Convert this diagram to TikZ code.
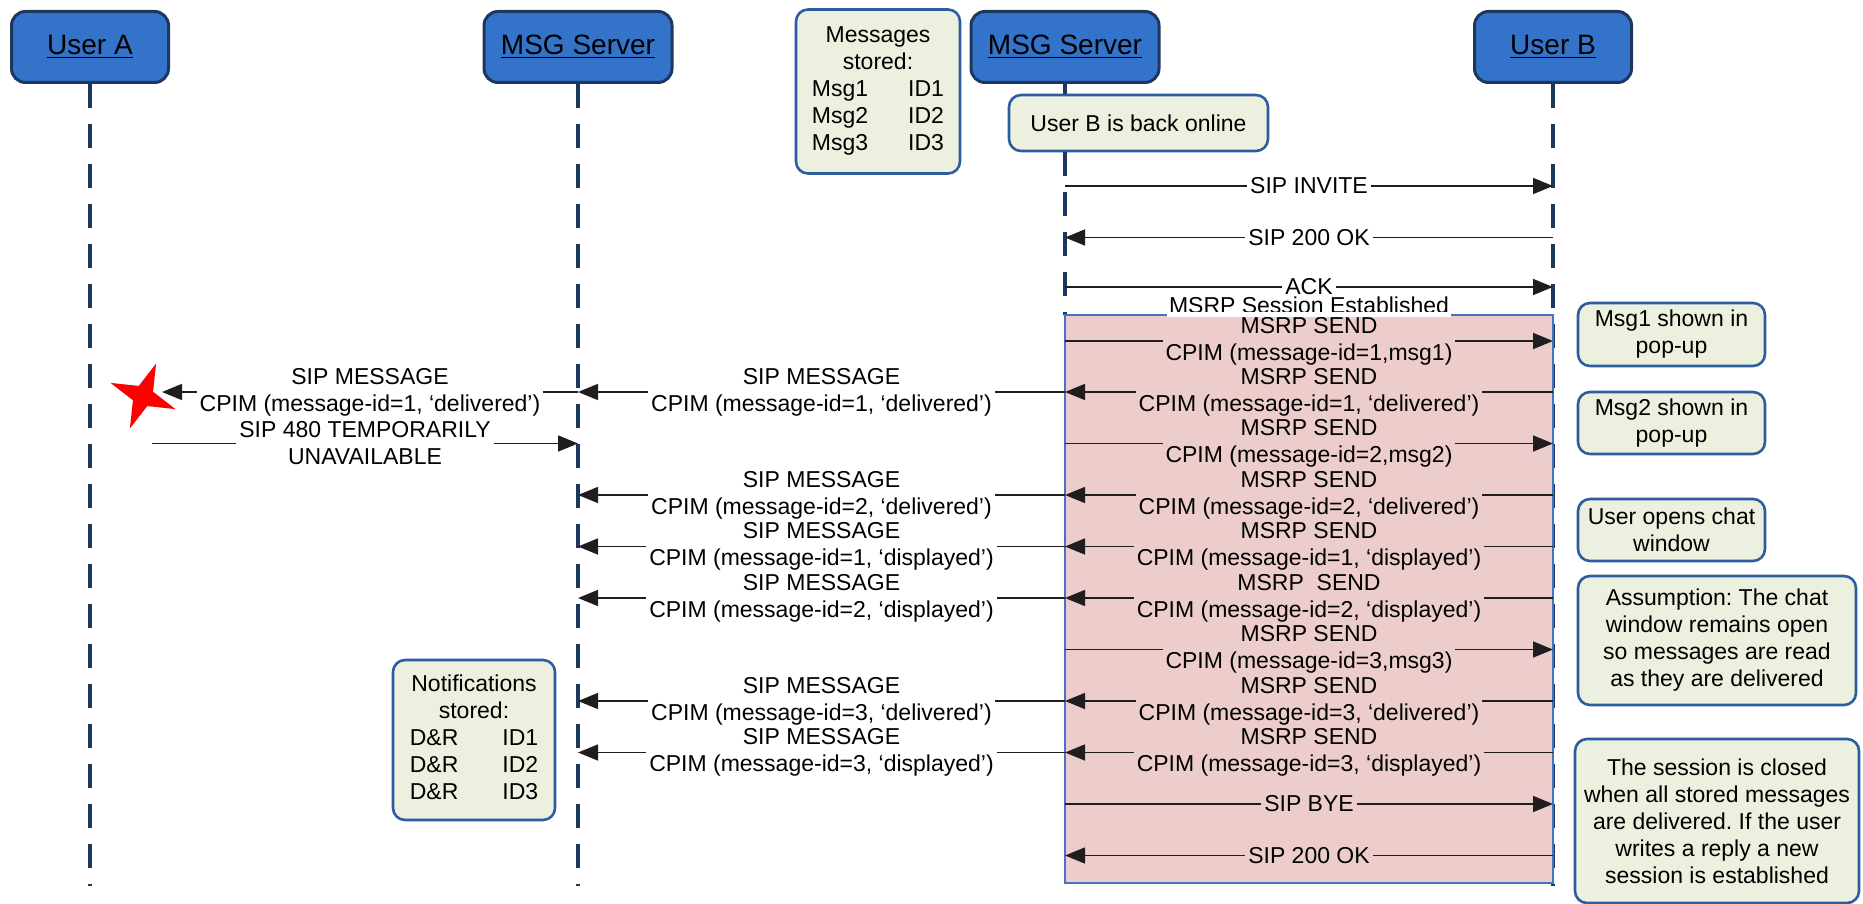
\documentclass[tikz,border=0pt]{standalone}
\usepackage{fontspec}
\setmainfont{Liberation Sans}
\frenchspacing
\usetikzlibrary{arrows.meta,shapes.geometric,calc}
\definecolor{hdrfill}{RGB}{51,115,201}
\definecolor{hdrdraw}{RGB}{30,55,95}
\definecolor{lifecol}{RGB}{30,55,95}
\definecolor{notefill}{RGB}{235,241,222}
\definecolor{notedraw}{RGB}{46,92,160}
\definecolor{pinkfill}{RGB}{236,205,203}
\definecolor{pinkdraw}{RGB}{68,114,196}
\definecolor{arrcol}{RGB}{30,30,30}
\tikzset{
 hdr/.style={draw=hdrdraw, line width=1.5pt, fill=hdrfill, rounded corners=7pt, minimum height=35.5pt, font=\fontsize{14}{16}\selectfont, inner sep=0pt},
 note/.style={draw=notedraw, line width=1.3pt, fill=notefill, rounded corners=6pt, align=center, font=\fontsize{11.5}{13.5}\selectfont, inner sep=0pt},
 life/.style={draw=lifecol, line width=1.6pt, dash pattern=on 12pt off 8pt},
 msgarrow/.style={draw=arrcol, line width=0.8pt, -{Triangle[length=10pt,width=8pt]}},
 lbl/.style={align=center, font=\fontsize{11.5}{13.5}\selectfont, inner xsep=1.5pt, inner ysep=0pt, text=black}
}
\newcommand\seqmsg[5]{\draw[msgarrow] (#1 |- 0,#3) -- node[lbl, fill=#5]{#4} (#2 |- 0,#3);}
\begin{document}
\begin{tikzpicture}[x=0.5pt,y=-0.5pt]
\useasboundingbox (0,0) rectangle (1863,904);
% headers
\node[hdr, minimum width=78.5pt] (hA) at (90,47) {\underline{User A}};
\node[hdr, minimum width=94pt] (hS1) at (578,47) {\underline{MSG Server}};
\node[hdr, minimum width=94pt] (hS2) at (1065,47) {\underline{MSG Server}};
\node[hdr, minimum width=78.5pt] (hB) at (1553,47) {\underline{User B}};
\node[note, minimum width=129.5pt, minimum height=28pt] (online) at (1138.5,123) {User B is back online};
% lifelines
\draw[life] (hA.south) -- (hA |- 0,886);
\draw[life] (hS1.south) -- (hS1 |- 0,886);
\draw[draw=lifecol, line width=1.6pt] (hS2.south) -- (hS2 |- online.north);
\draw[life] (hS2 |- online.south) -- (hS2 |- 0,315);
\draw[life] (hB.south) -- (hB |- 0,886);
% session box
\coordinate (sesTL) at (hS2 |- 0,315);
\coordinate (sesBR) at (hB |- 0,883);
\draw[draw=pinkdraw, fill=pinkfill, line width=1.3pt] (sesTL) rectangle (sesBR);
\node[inner sep=0pt, anchor=south, font=\fontsize{11.5}{13.5}\selectfont] (ses) at ($(sesTL)!0.5!(sesTL -| sesBR)+(0,-0.5)$) {MSRP Session Established};
\fill[white] ($(ses.south west)+(-2,-3)$) rectangle ($(ses.south east)+(2,3)$);
% notes
\node[note, minimum width=82pt, minimum height=82pt] (stored) at (878,91.5) {\begin{tabular}{@{}l@{\hspace{20pt}}l@{}}\multicolumn{2}{@{}c@{}}{Messages}\\ \multicolumn{2}{@{}c@{}}{stored:}\\ Msg1&ID1\\ Msg2&ID2\\ Msg3&ID3\end{tabular}};
\node[note, minimum width=81pt, minimum height=80pt] (notif) at (474,740) {\begin{tabular}{@{}l@{\hspace{22pt}}l@{}}\multicolumn{2}{@{}c@{}}{Notifications}\\ \multicolumn{2}{@{}c@{}}{stored:}\\ D\&R&ID1\\ D\&R&ID2\\ D\&R&ID3\end{tabular}};
\node[note, minimum width=93.5pt, minimum height=31.5pt] (pop1) at (1671.5,334.5) {Msg1 shown in\\pop-up};
\node[note, minimum width=93.5pt, minimum height=31pt] (pop2) at (1671.5,423) {Msg2 shown in\\pop-up};
\node[note, minimum width=93.5pt, minimum height=31pt] (opens) at (1671.5,530) {User opens chat\\window};
\node[note, minimum width=139pt, minimum height=64.5pt] (assume) at (1717,640.5) {Assumption: The chat\\window remains open\\so messages are read\\as they are delivered};
\node[note, minimum width=142pt, minimum height=82pt] (closed) at (1717,821) {The session is closed\\when all stored messages\\are delivered. If the user\\writes a reply a new\\session is established};
% star
\node[star, star points=4, star point ratio=3.2, minimum size=35pt, inner sep=0pt, fill=red, rotate=-22] (star) at (143,396) {};
\coordinate (starTip) at (162,392);
\coordinate (s480) at (152,443.5);
% messages
\seqmsg{hS2}{hB}{186}{SIP INVITE}{white}
\seqmsg{hB}{hS2}{237.5}{SIP 200 OK}{white}
\seqmsg{hS2}{hB}{287}{ACK}{white}
\seqmsg{hS2}{hB}{341}{MSRP SEND\\CPIM (message-id=1,msg1)}{pinkfill}
\seqmsg{hB}{hS2}{392}{MSRP SEND\\CPIM (message-id=1, ‘delivered’)}{pinkfill}
\seqmsg{hS2}{hS1}{392}{SIP MESSAGE\\CPIM (message-id=1, ‘delivered’)}{white}
\seqmsg{hS1}{starTip}{392}{SIP MESSAGE\\CPIM (message-id=1, ‘delivered’)}{white}
\seqmsg{s480}{hS1}{443.5}{SIP 480 TEMPORARILY\\UNAVAILABLE}{white}
\seqmsg{hS2}{hB}{443.5}{MSRP SEND\\CPIM (message-id=2,msg2)}{pinkfill}
\seqmsg{hB}{hS2}{495}{MSRP SEND\\CPIM (message-id=2, ‘delivered’)}{pinkfill}
\seqmsg{hS2}{hS1}{495}{SIP MESSAGE\\CPIM (message-id=2, ‘delivered’)}{white}
\seqmsg{hB}{hS2}{546.5}{MSRP SEND\\CPIM (message-id=1, ‘displayed’)}{pinkfill}
\seqmsg{hS2}{hS1}{546.5}{SIP MESSAGE\\CPIM (message-id=1, ‘displayed’)}{white}
\seqmsg{hB}{hS2}{598}{MSRP\ \ SEND\\CPIM (message-id=2, ‘displayed’)}{pinkfill}
\seqmsg{hS2}{hS1}{598}{SIP MESSAGE\\CPIM (message-id=2, ‘displayed’)}{white}
\seqmsg{hS2}{hB}{649.5}{MSRP SEND\\CPIM (message-id=3,msg3)}{pinkfill}
\seqmsg{hB}{hS2}{701}{MSRP SEND\\CPIM (message-id=3, ‘delivered’)}{pinkfill}
\seqmsg{hS2}{hS1}{701}{SIP MESSAGE\\CPIM (message-id=3, ‘delivered’)}{white}
\seqmsg{hB}{hS2}{752.5}{MSRP SEND\\CPIM (message-id=3, ‘displayed’)}{pinkfill}
\seqmsg{hS2}{hS1}{752.5}{SIP MESSAGE\\CPIM (message-id=3, ‘displayed’)}{white}
\seqmsg{hS2}{hB}{804}{SIP BYE}{pinkfill}
\seqmsg{hB}{hS2}{855.5}{SIP 200 OK}{pinkfill}
\end{tikzpicture}
\end{document}
